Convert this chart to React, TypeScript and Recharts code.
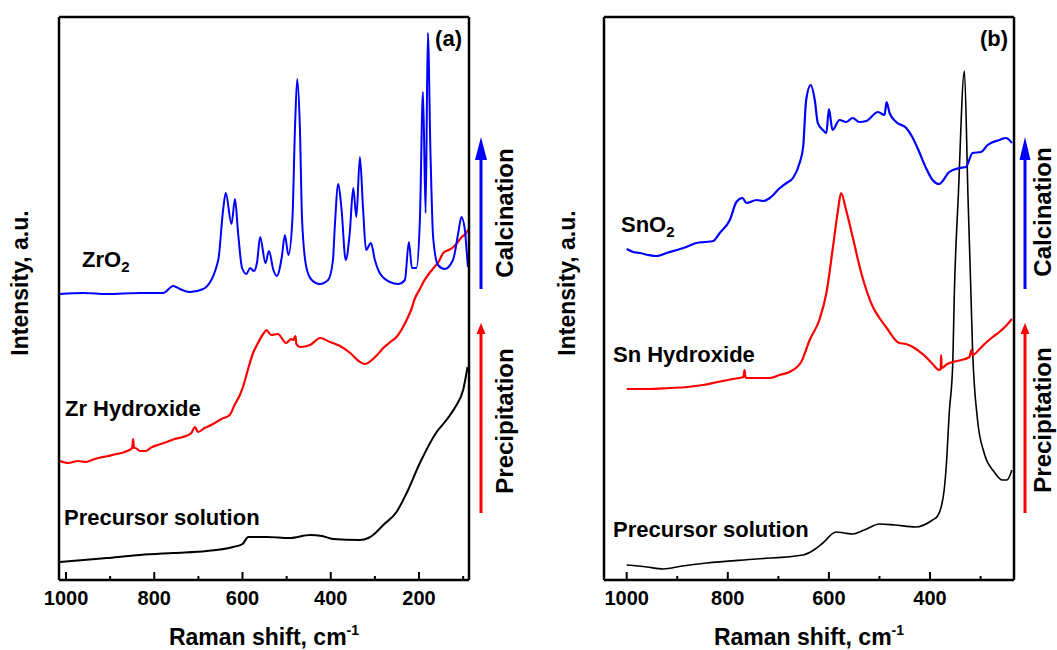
import { LineChart, Line, XAxis, YAxis } from "recharts";

// Raman shift (cm-1), intensity (a.u., offset stacked)
const zrO2: [number, number][] = [
  [1014, 286], [960, 287], [908, 286], [832, 287], [780, 287], [757, 294], [742, 291],
  [719, 288], [689, 291], [685, 292], [655, 320], [644, 370], [638, 387], [625, 356],
  [617, 381], [610, 347], [601, 312], [591, 306], [583, 312], [574, 309], [567, 318],
  [560, 343], [548, 317], [540, 329], [530, 310], [522, 304], [511, 323], [504, 345],
  [496, 325], [487, 360], [481, 453], [476, 501], [470, 453], [465, 360], [455, 312],
  [443, 300], [425, 296], [406, 300], [395, 320], [391, 352], [383, 396], [376, 373],
  [366, 320], [357, 347], [349, 392], [342, 363], [334, 423], [327, 373], [320, 330],
  [309, 337], [300, 320], [289, 307], [266, 298], [247, 296], [232, 300], [223, 338],
  [216, 312], [206, 312], [198, 360], [191, 488], [185, 367], [180, 547], [174, 427],
  [168, 343], [157, 315], [142, 311], [123, 320], [111, 347], [104, 363], [96, 350],
  [91, 323], [89, 313],
];

const zrHydroxide: [number, number][] = [
  [1014, 119], [995, 117], [973, 119], [955, 118], [935, 121], [905, 124], [885, 126],
  [867, 128], [850, 132], [848, 141], [846, 132], [843, 132], [832, 129], [820, 129],
  [805, 133], [792, 135], [772, 138], [754, 141], [735, 143], [716, 147], [708, 153],
  [701, 148], [686, 152], [671, 155], [648, 161], [629, 165], [618, 175], [606, 185],
  [599, 193], [588, 210], [576, 227], [565, 237], [550, 248], [546, 250], [535, 245],
  [520, 246], [501, 237], [490, 241], [485, 240], [480, 244], [478, 236], [470, 233],
  [447, 235], [424, 242], [402, 238], [379, 234], [356, 227], [337, 219], [322, 216],
  [307, 220], [295, 225], [281, 232], [265, 238], [251, 243], [240, 250], [228, 260],
  [218, 270], [209, 282], [198, 291], [190, 298], [178, 306], [167, 312], [156, 318],
  [145, 327], [133, 330], [122, 333], [112, 338], [103, 343], [95, 346], [88, 350],
];

const zrPrecursor: [number, number][] = [
  [1014, 18], [960, 20], [908, 22], [832, 25], [757, 27], [681, 29], [621, 33], [600, 36],
  [587, 43], [570, 43], [545, 43], [493, 42], [447, 45], [420, 44], [395, 41], [334, 40],
  [315, 42], [304, 45], [281, 55], [251, 68], [228, 87], [198, 117], [160, 148], [138, 160],
  [115, 175], [100, 190], [90, 213],
];

const snO2: [number, number][] = [
  [1000, 331], [987, 328], [974, 327], [957, 325], [941, 324], [921, 327], [901, 330],
  [882, 333], [862, 337], [845, 338], [829, 339], [816, 347], [796, 360], [783, 378],
  [771, 382], [763, 377], [743, 380], [730, 379], [717, 382], [697, 392], [684, 397],
  [671, 402], [658, 417], [651, 433], [645, 480], [636, 495], [628, 480], [622, 457],
  [612, 450], [605, 447], [600, 471], [593, 450], [579, 460], [566, 458], [553, 462],
  [540, 458], [526, 459], [503, 468], [490, 465], [486, 478], [480, 467], [467, 458],
  [447, 452], [434, 442], [423, 430], [408, 412], [395, 400], [382, 396], [362, 408],
  [342, 412], [329, 413], [316, 427], [299, 428], [286, 435], [263, 440], [250, 442],
  [238, 437],
];

const snHydroxide: [number, number][] = [
  [1000, 191], [958, 191], [915, 192], [880, 193], [849, 195], [820, 198], [790, 201],
  [769, 203], [767, 210], [765, 203], [763, 202], [740, 202], [717, 202], [698, 205],
  [678, 208], [655, 218], [638, 240], [619, 260], [605, 287], [592, 333], [582, 370],
  [576, 387], [566, 370], [553, 343], [536, 307], [513, 273], [500, 262], [487, 253],
  [461, 237], [448, 236], [434, 233], [420, 228], [408, 223], [395, 216], [382, 210],
  [379, 211], [378, 225], [377, 212], [366, 216], [355, 218], [338, 220], [322, 223],
  [318, 230], [316, 225], [300, 232], [290, 237], [276, 243], [263, 248], [250, 254],
  [238, 261],
];

const snPrecursor: [number, number][] = [
  [1000, 15], [960, 13], [928, 11], [890, 14], [842, 17], [743, 21], [651, 25], [630, 30],
  [612, 37], [586, 48], [570, 47], [553, 46], [530, 50], [500, 56], [470, 55], [428, 53],
  [395, 60], [385, 64], [378, 73], [372, 90], [368, 113], [362, 167], [355, 217], [352, 285],
  [344, 385], [332, 509], [325, 385], [319, 285], [316, 233], [306, 160], [293, 127],
  [273, 108], [257, 100], [248, 100], [238, 110],
];

const ticksA = [100, 200, 300, 400, 500, 600, 700, 800, 900, 1000];
const ticksB = [300, 400, 500, 600, 700, 800, 900, 1000];

const toPts = (arr: [number, number][]) => arr.map(([x, y]) => ({ x, y }));

const FONT = "'Liberation Sans', Arial, Helvetica, sans-serif";
const W = 1057;
const H = 650;

function RamanTick(props: any) {
  const { x, y, payload } = props;
  const major = payload.value % 200 === 0;
  return (
    <g>
      <line x1={x} x2={x} y1={y} y2={y - (major ? 8 : 4)} stroke="#000" strokeWidth={2} />
      {major && (
        <text x={x} y={y + 25} textAnchor="middle" fontSize={20} fontWeight="bold" fill="#000" fontFamily={FONT}>
          {payload.value}
        </text>
      )}
    </g>
  );
}

interface PanelProps {
  left: number;
  right: number;
  domain: [number, number];
  ticks: number[];
  series: { data: [number, number][]; color: string; width: number }[];
}

function Panel({ left, right, domain, ticks, series }: PanelProps) {
  const frame = { stroke: "#000", strokeWidth: 2.5 };
  return (
    <LineChart
      width={W}
      height={H}
      margin={{ top: 16, right: W - right - 1, bottom: H - 580 - 1, left: left - 1 }}
      style={{ position: "absolute", left: 0, top: 0 }}
    >
      <XAxis
        dataKey="x"
        type="number"
        domain={domain}
        reversed
        allowDataOverflow
        ticks={ticks}
        interval={0}
        height={1}
        tickSize={0}
        tickMargin={0}
        tickLine={false}
        axisLine={frame}
        tick={<RamanTick />}
      />
      <XAxis
        xAxisId="top"
        orientation="top"
        type="number"
        domain={domain}
        reversed
        allowDataOverflow
        ticks={ticks}
        height={1}
        tick={false}
        tickLine={false}
        axisLine={frame}
      />
      <YAxis
        yAxisId="l"
        type="number"
        domain={[0, 563]}
        allowDataOverflow
        width={1}
        tick={false}
        tickLine={false}
        axisLine={frame}
      />
      <YAxis
        yAxisId="r"
        orientation="right"
        type="number"
        domain={[0, 563]}
        allowDataOverflow
        width={1}
        tick={false}
        tickLine={false}
        axisLine={frame}
      />
      {series.map((s, i) => (
        <Line
          key={i}
          yAxisId="l"
          data={toPts(s.data)}
          dataKey="y"
          type="monotone"
          dot={false}
          stroke={s.color}
          strokeWidth={s.width}
          strokeLinejoin="round"
          isAnimationActive={false}
        />
      ))}
    </LineChart>
  );
}

function Arrow({ x, y1, y2, color, hw, hh }: { x: number; y1: number; y2: number; color: string; hw: number; hh: number }) {
  return (
    <g>
      <line x1={x} x2={x} y1={y1} y2={y2 + hh - 2} stroke={color} strokeWidth={3} />
      <polygon points={`${x - hw / 2},${y2 + hh} ${x + hw / 2},${y2 + hh} ${x},${y2}`} fill={color} />
    </g>
  );
}

function Overlay() {
  const t = { fontFamily: FONT, fontWeight: "bold" as const, fill: "#000" };
  return (
    <svg width={W} height={H} style={{ position: "absolute", left: 0, top: 0 }}>
      {/* axis titles */}
      <text {...t} fontSize={23} x={264} y={645} textAnchor="middle">
        Raman shift, cm<tspan fontSize={14} dy={-10}>-1</tspan>
      </text>
      <text {...t} fontSize={23} x={809} y={645} textAnchor="middle">
        Raman shift, cm<tspan fontSize={14} dy={-10}>-1</tspan>
      </text>
      <text {...t} fontSize={23} transform="translate(28,283) rotate(-90)" textAnchor="middle">
        Intensity, a.u.
      </text>
      <text {...t} fontSize={23} transform="translate(575,283) rotate(-90)" textAnchor="middle">
        Intensity, a.u.
      </text>

      {/* panel tags */}
      <text {...t} fontSize={22} x={462} y={46} textAnchor="end">(a)</text>
      <text {...t} fontSize={22} x={1008} y={46} textAnchor="end">(b)</text>

      {/* curve labels */}
      <text {...t} fontSize={22} x={82} y={267}>
        ZrO<tspan fontSize={15} dy={5}>2</tspan>
      </text>
      <text {...t} fontSize={22} x={65} y={416}>Zr Hydroxide</text>
      <text {...t} fontSize={22} x={64} y={525}>Precursor solution</text>
      <text {...t} fontSize={22} x={621} y={232}>
        SnO<tspan fontSize={15} dy={5}>2</tspan>
      </text>
      <text {...t} fontSize={22} x={613} y={362}>Sn Hydroxide</text>
      <text {...t} fontSize={22} x={613} y={537}>Precursor solution</text>

      {/* process arrows */}
      <Arrow x={481} y1={289} y2={137} color="#0000ff" hw={12} hh={23} />
      <Arrow x={481} y1={513} y2={323} color="#ff0000" hw={9} hh={11} />
      <Arrow x={1025} y1={289} y2={137} color="#0000ff" hw={11} hh={23} />
      <Arrow x={1025} y1={513} y2={323} color="#ff0000" hw={9} hh={11} />
      <text {...t} fontSize={24} transform="translate(513,213) rotate(-90)" textAnchor="middle">Calcination</text>
      <text {...t} fontSize={24} transform="translate(513,421) rotate(-90)" textAnchor="middle">Precipitation</text>
      <text {...t} fontSize={24} transform="translate(1051,212) rotate(-90)" textAnchor="middle">Calcination</text>
      <text {...t} fontSize={24} transform="translate(1051,420) rotate(-90)" textAnchor="middle">Precipitation</text>
    </svg>
  );
}

export default function App() {
  return (
    <div style={{ position: "absolute", left: 0, top: 0, width: W, height: H, background: "#fff", overflow: "hidden" }}>
      <Panel
        left={59}
        right={469}
        domain={[86.7, 1015.9]}
        ticks={ticksA}
        series={[
          { data: zrPrecursor, color: "#000000", width: 2 },
          { data: zrHydroxide, color: "#ff0000", width: 2.2 },
          { data: zrO2, color: "#0000ff", width: 2 },
        ]}
      />
      <Panel
        left={604}
        right={1014}
        domain={[233.9, 1044.9]}
        ticks={ticksB}
        series={[
          { data: snPrecursor, color: "#000000", width: 1.6 },
          { data: snHydroxide, color: "#ff0000", width: 2.2 },
          { data: snO2, color: "#0000ff", width: 2.2 },
        ]}
      />
      <Overlay />
    </div>
  );
}
